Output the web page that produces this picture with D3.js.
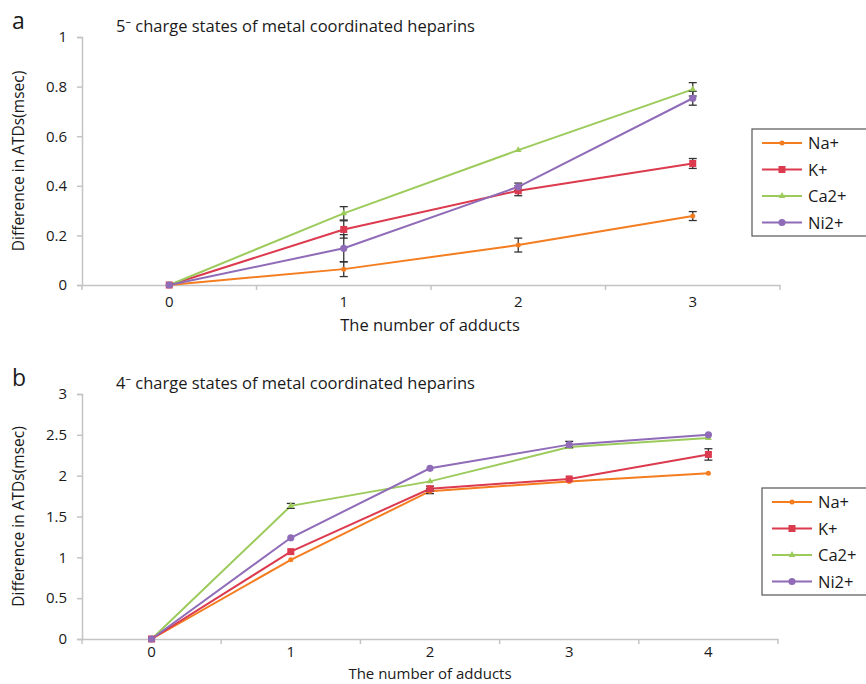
<!DOCTYPE html>
<html>
<head>
<meta charset="utf-8">
<script src="https://cdn.jsdelivr.net/npm/d3@7"></script>
<style>
  body { margin: 0; background: #fff; }
  text { font-family: "Open Sans", "Noto Sans", sans-serif; fill: #1a1a1a; }
</style>
</head>
<body>
<div id="container"></div>
<script>
const seriesNames = ["Na+", "K+", "Ca2+", "Ni2+"];
const seriesColors = ["#f47d20", "#dc3a4e", "#9ccb5c", "#8f6bb8"];
const seriesShapes = ["dot", "square", "triangle", "circle"];

// panel a: 5- charge state
const adductsA = ["0", "1", "2", "3"];
const naA = [0, 0.064, 0.161, 0.278];
const kA = [0, 0.224, 0.380, 0.490];
const caA = [0, 0.289, 0.544, 0.789];
const niA = [0, 0.148, 0.396, 0.753];
const naErrA = [0, 0.03, 0.028, 0.018];
const kErrA = [0, 0.035, 0.02, 0.02];
const caErrA = [0, 0.027, 0, 0.027];
const niErrA = [0, 0.055, 0.015, 0.028];
const yTicksA = [0, 0.2, 0.4, 0.6, 0.8, 1];

// panel b: 4- charge state
const adductsB = ["0", "1", "2", "3", "4"];
const naB = [0, 0.97, 1.81, 1.93, 2.03];
const kB = [0, 1.07, 1.84, 1.96, 2.26];
const caB = [0, 1.63, 1.93, 2.35, 2.46];
const niB = [0, 1.24, 2.09, 2.38, 2.50];
const naErrB = [0, 0, 0.03, 0, 0];
const kErrB = [0, 0, 0.03, 0, 0.07];
const caErrB = [0, 0.03, 0, 0, 0];
const niErrB = [0, 0, 0, 0.04, 0];
const yTicksB = [0, 0.5, 1, 1.5, 2, 2.5, 3];

const w = 866;
const h = 684;
const svg = d3.select("#container")
  .append("svg")
  .attr("width", w)
  .attr("height", h);

function marker(g, shape, x, y, color) {
  if (shape == "square") {
    g.append("rect").attr("x", x - 3.5).attr("y", y - 3.5)
      .attr("width", 7).attr("height", 7).attr("fill", color);
  } else if (shape == "triangle") {
    g.append("path").attr("transform", "translate(" + x + "," + y + ")")
      .attr("d", d3.symbol(d3.symbolTriangle, 20)()).attr("fill", color);
  } else if (shape == "circle") {
    g.append("circle").attr("cx", x).attr("cy", y).attr("r", 3.6).attr("fill", color);
  } else {
    g.append("circle").attr("cx", x).attr("cy", y).attr("r", 2.5).attr("fill", color);
  }
}

function drawPanel(opt) {
  const g = svg.append("g");
  const x = d3.scaleBand().domain(opt.cats).range([82, opt.right]);
  const y = d3.scaleLinear().domain(opt.yDomain).range([opt.bottom, opt.top]);

  // axes
  const yAxis = d3.axisLeft(y).tickValues(opt.yTicks).tickFormat(d3.format("~g"))
    .tickSize(5).tickPadding(10);
  const ga = g.append("g").attr("transform", "translate(82,0)").call(yAxis);
  const xAxis = d3.axisBottom(x).tickSize(0).tickPadding(opt.xPad);
  const gx = g.append("g").attr("transform", "translate(0," + opt.bottom + ")").call(xAxis);
  [ga, gx].forEach(a => {
    a.select(".domain").attr("stroke", "#c4c4c4").attr("stroke-width", 1.5);
    a.selectAll(".tick line").attr("stroke", "#c4c4c4").attr("stroke-width", 1.5);
    a.selectAll("text").style("font-size", "15px").attr("fill", "#1a1a1a");
  });
  // band boundary ticks on x axis
  const bounds = opt.cats.map(c => x(c)).concat([x.range()[1]]);
  g.selectAll(".bt").data(bounds).enter().append("line")
    .attr("x1", d => d).attr("x2", d => d)
    .attr("y1", opt.bottom).attr("y2", opt.bottom + 5)
    .attr("stroke", "#c4c4c4").attr("stroke-width", 1.5);

  const cx = c => x(c) + x.bandwidth() / 2;
  const line = d3.line().x((d, i) => cx(opt.cats[i])).y(d => y(d));

  opt.series.forEach((vals, si) => {
    g.append("path").datum(vals).attr("d", line)
      .attr("fill", "none").attr("stroke", seriesColors[si]).attr("stroke-width", 2);
  });
  // error bars
  opt.series.forEach((vals, si) => {
    vals.forEach((v, i) => {
      const e = opt.errs[si][i];
      if (!e) return;
      const px = cx(opt.cats[i]);
      g.append("line").attr("x1", px).attr("x2", px).attr("y1", y(v - e)).attr("y2", y(v + e))
        .attr("stroke", "#333").attr("stroke-width", 1.3);
      [v - e, v + e].forEach(t => {
        g.append("line").attr("x1", px - 4).attr("x2", px + 4).attr("y1", y(t)).attr("y2", y(t))
          .attr("stroke", "#333").attr("stroke-width", 1.3);
      });
    });
  });
  opt.series.forEach((vals, si) => {
    vals.forEach((v, i) => marker(g, seriesShapes[si], cx(opt.cats[i]), y(v), seriesColors[si]));
  });

  // titles
  g.append("text").attr("x", 12).attr("y", opt.top - 8).text(opt.letter)
    .style("font-size", "23px");
  g.append("text").attr("x", 116).attr("y", opt.top - 5).text(opt.title)
    .style("font-size", "16.5px");
  g.append("text").attr("x", 430).attr("y", opt.bottom + opt.xTitleDy).attr("text-anchor", "middle")
    .text("The number of adducts").style("font-size", opt.xTitleSize);
  g.append("text")
    .attr("transform", "translate(24," + ((opt.top + opt.bottom) / 2) + ") rotate(-90)")
    .attr("text-anchor", "middle").text("Difference in ATDs(msec)").style("font-size", "15.5px");

  // legend
  const lg = g.append("g").attr("transform", "translate(" + opt.legX + "," + opt.legY + ")");
  lg.append("rect").attr("x", 0).attr("y", 0).attr("width", 130).attr("height", 107)
    .attr("fill", "#fff").attr("stroke", "#555").attr("stroke-width", 1.2);
  seriesNames.forEach((n, si) => {
    const ly = 14 + si * 26.5;
    lg.append("line").attr("x1", 10).attr("x2", 50).attr("y1", ly).attr("y2", ly)
      .attr("stroke", seriesColors[si]).attr("stroke-width", 2);
    marker(lg, seriesShapes[si], 30, ly, seriesColors[si]);
    lg.append("text").attr("x", 56).attr("y", ly + 6).text(n).style("font-size", "16.5px");
  });
}

drawPanel({
  letter: "a", title: "5\u207B charge states of metal coordinated heparins",
  cats: adductsA, yDomain: [0, 1], yTicks: yTicksA, top: 37, bottom: 285, right: 780,
  series: [naA, kA, caA, niA], errs: [naErrA, kErrA, caErrA, niErrA],
  legX: 752, legY: 129, xTitleDy: 46, xPad: 11, xTitleSize: "16.5px"
});

drawPanel({
  letter: "b", title: "4\u207B charge states of metal coordinated heparins",
  cats: adductsB, yDomain: [0, 3], yTicks: yTicksB, top: 394, bottom: 639, right: 778,
  series: [naB, kB, caB, niB], errs: [naErrB, kErrB, caErrB, niErrB],
  legX: 762, legY: 488, xTitleDy: 40, xPad: 7, xTitleSize: "15px"
});
</script>
</body>
</html>
